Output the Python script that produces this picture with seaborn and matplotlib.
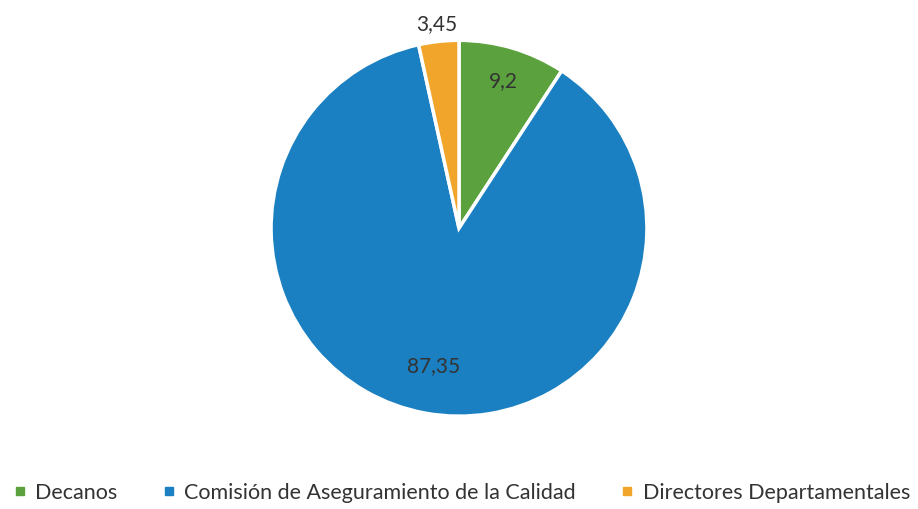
import matplotlib.pyplot as plt
import seaborn as sns
from matplotlib.lines import Line2D
import numpy as np

# Data
categorias = ['Decanos', 'Comisión de Aseguramiento de la Calidad', 'Directores Departamentales']
valores = [9.2, 87.35, 3.45]
etiquetas = ['9,2', '87,35', '3,45']
colores = ['#5ba23e', '#1b80c1', '#f1a52a']

sns.set_theme(style='white')
plt.rcParams['font.family'] = ['Lato', 'DejaVu Sans']

fig = plt.figure(figsize=(9.18, 5.10), dpi=100)
ax = fig.add_axes([0.2952, 0.182, 0.4096, 0.737])

wedges, _ = ax.pie(valores, colors=colores, startangle=90, counterclock=False,
                   wedgeprops=dict(edgecolor='white', linewidth=2.5))
ax.set_aspect('equal')
ax.set_xlim(-1, 1)
ax.set_ylim(-1, 1)

# label distance for each wedge (fraction of radius)
distancias = [0.82, 0.74, 1.1]
for w, txt, d in zip(wedges, etiquetas, distancias):
    ang = np.deg2rad((w.theta1 + w.theta2) / 2)
    ax.text(d * np.cos(ang), d * np.sin(ang), txt, ha='center', va='center',
            fontsize=15, color='#333333', clip_on=False)

handles = [Line2D([], [], marker='s', linestyle='', markersize=6,
                  markerfacecolor=c, markeredgecolor=c) for c in colores]
fig.legend(handles, categorias, loc='lower center', bbox_to_anchor=(0.503, -0.025),
           ncol=3, frameon=False, fontsize=15.5, handlelength=0.6,
           handletextpad=0.4, columnspacing=2.1, labelcolor='#333333')

fig.savefig('out.png', dpi=100)
